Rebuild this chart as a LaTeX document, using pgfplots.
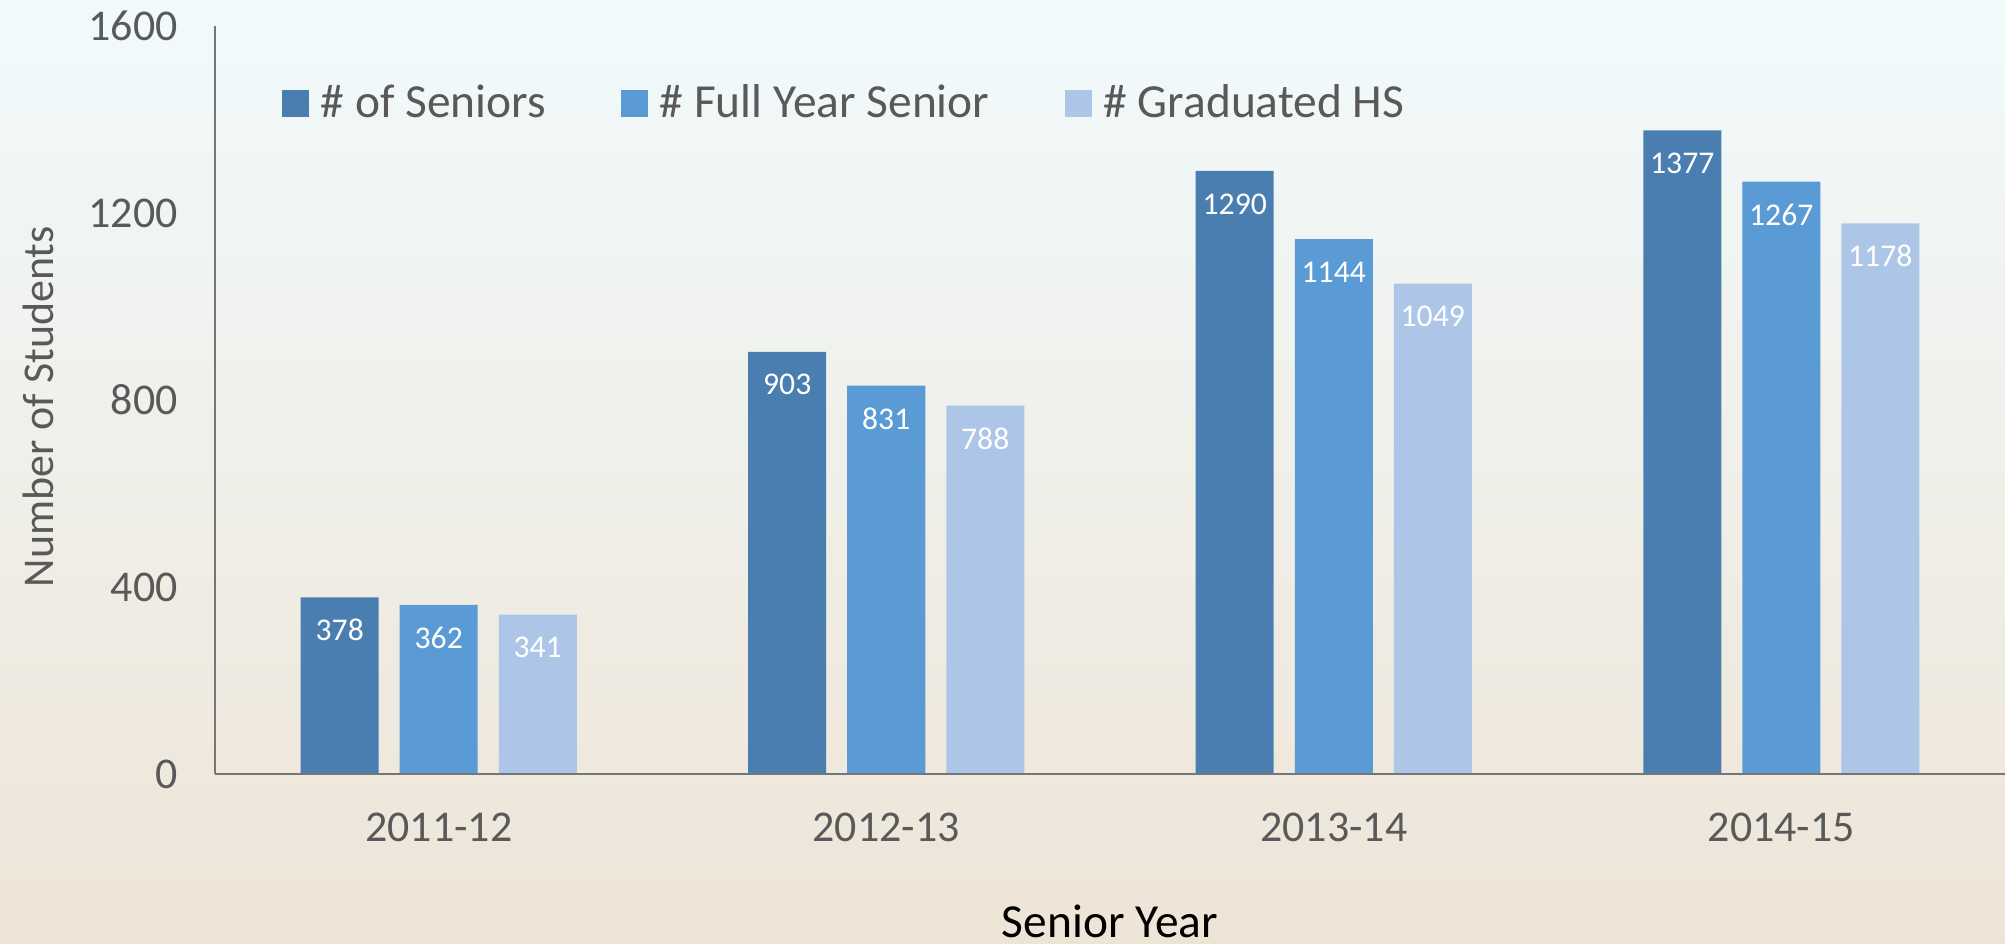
\documentclass[border=0pt]{standalone}
\usepackage{fontspec}
\setmainfont{Carlito}
\usepackage{pgfplots}
\pgfplotsset{compat=1.18}
\definecolor{txtgray}{RGB}{89,89,89}
\definecolor{axgray}{RGB}{118,118,118}
\definecolor{sen}{RGB}{74,126,177}
\definecolor{full}{RGB}{91,155,213}
\definecolor{grad}{RGB}{173,198,231}
\definecolor{bgtop}{RGB}{241,250,252}
\definecolor{bgmid}{RGB}{241,243,233}
\definecolor{bgbot}{RGB}{238,228,214}

\begin{document}
\begin{tikzpicture}
% background wash
\shade[top color=bgtop, middle color=bgmid, bottom color=bgbot] (0,0) rectangle (20.05,9.44);

\begin{axis}[
  at={(2.15cm,1.70cm)}, anchor=south west,
  scale only axis, width=17.9cm, height=7.48cm,
  ybar=0.21cm, bar width=0.78cm,
  enlargelimits=false,
  xmin=-0.5, xmax=3.5, ymin=0, ymax=1600,
  xtick={0,1,2,3},
  xticklabels={2011-12,2012-13,2013-14,2014-15},
  ytick={0,400,800,1200,1600},
  major tick length=0pt,
  axis x line*=bottom, axis y line*=left,
  axis line style={draw=axgray, line width=0.85pt, -},
  axis on top,
  /pgf/number format/1000 sep={},
  /pgf/number format/assume math mode=true,
  ticklabel style={font=\fontsize{12.5}{15}\selectfont, text=txtgray},
  xticklabel style={anchor=base, yshift=-0.68cm},
  yticklabel style={anchor=east, xshift=-0.25cm},
  ylabel={Number of Students},
  ylabel style={at={(axis description cs:-0.0989,0.491)}, anchor=center,
    font=\fontsize{12.5}{15}\selectfont, text=txtgray},
  xlabel={Senior Year},
  xlabel style={at={(axis description cs:0.5,-0.218)}, anchor=base,
    font=\fontsize{13.5}{16}\selectfont, text=black},
  nodes near coords,
  nodes near coords style={anchor=center, yshift=-0.33cm,
    font=\fontsize{9}{11}\selectfont, text=white},
  legend columns=-1,
  legend image code/.code={\fill[#1,draw=none] (0cm,-0.135cm) rectangle (0.27cm,0.135cm);},
  legend style={at={(axis description cs:0.0369,0.8964)}, anchor=west,
    draw=none, fill=none, inner sep=0pt,
    nodes={inner sep=0pt, text=txtgray},
    font=\fontsize{13.5}{16}\selectfont,
    /tikz/every odd column/.style={column sep=0.12cm},
    /tikz/every even column/.style={column sep=0.75cm}},
]
\addplot[fill=sen, draw=none] coordinates {(0,378) (1,903) (2,1290) (3,1377)};
\addlegendentry{\# of Seniors}
\addplot[fill=full, draw=none] coordinates {(0,362) (1,831) (2,1144) (3,1267)};
\addlegendentry{\# Full Year Senior}
\addplot[fill=grad, draw=none] coordinates {(0,341) (1,788) (2,1049) (3,1178)};
\addlegendentry{\# Graduated HS}
\end{axis}

\pgfresetboundingbox
\path[use as bounding box] (0,0) rectangle (20.05,9.44);
\end{tikzpicture}
\end{document}
